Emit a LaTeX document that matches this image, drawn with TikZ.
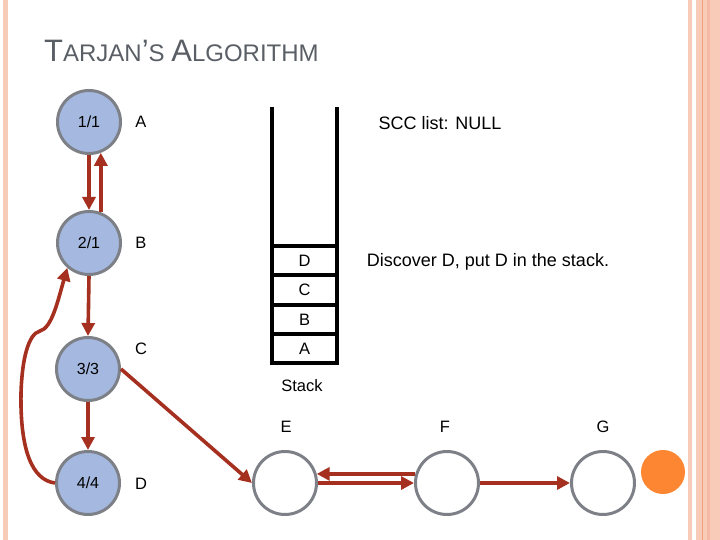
\documentclass[tikz,border=0pt]{standalone}
\usepackage{fontspec}
\setmainfont{Liberation Sans}
\usetikzlibrary{arrows.meta}
\definecolor{nodefill}{RGB}{165,185,224}
\definecolor{nodeedge}{RGB}{125,128,135}
\definecolor{arrowred}{RGB}{165,48,32}
\definecolor{bordpink}{RGB}{248,202,184}
\definecolor{bordline}{RGB}{238,160,125}
\definecolor{bordband}{RGB}{244,186,165}
\definecolor{titlegray}{RGB}{90,95,102}
\definecolor{orangedot}{RGB}{253,134,50}
\begin{document}
\begin{tikzpicture}[x=1pt,y=-1pt,
  vnode/.style={circle,draw=nodeedge,line width=3pt,fill=nodefill,minimum size=63pt,inner sep=0pt,font=\fontsize{16}{18}\selectfont},
  enode/.style={circle,draw=nodeedge,line width=3pt,fill=white,minimum size=63pt,inner sep=0pt},
  lbl/.style={font=\fontsize{16.5}{18}\selectfont,inner sep=0pt},
  txt/.style={font=\fontsize{18}{20}\selectfont,inner sep=0pt},
  arr/.style={draw=arrowred,line width=3.6pt,-{Triangle[length=13pt,width=13pt]}},
  stk/.style={line width=3.8pt,black},
]
\useasboundingbox (0,0) rectangle (720,540);
\fill[white] (0,0) rectangle (720,540);
% decorative borders
\fill[bordpink] (3,0) rectangle (8,540);
\fill[bordpink] (688,0) rectangle (692,540);
\fill[bordpink] (696,0) rectangle (720,540);
\fill[bordband] (707,0) rectangle (710,540);
\draw[bordline,line width=0.8pt] (702,0) -- (702,540);

% title
\node[anchor=base west,inner sep=0pt,text=titlegray] (title) at (44,62)
  {\fontsize{31}{34}\selectfont T\fontsize{24}{28}\selectfont ARJAN\fontsize{31}{34}\selectfont ’\fontsize{24}{28}\selectfont S \fontsize{31}{34}\selectfont A\fontsize{24}{28}\selectfont LGORITHM};

% graph nodes
\node[vnode] (A) at (89,122) {1/1};
\node[vnode] (B) at (89,243) {2/1};
\node[vnode] (C) at (88,369) {3/3};
\node[vnode] (D) at (88,483) {4/4};
\node[enode] (E) at (285,483) {};
\node[enode] (F) at (447,483) {};
\node[enode] (G) at (603,483) {};
\node[circle,fill=orangedot,minimum size=44pt,inner sep=0pt] (dot) at (663,472) {};

% labels
\node[lbl] (lA) at (141,122) {A};
\node[lbl] (lB) at (141,243) {B};
\node[lbl] (lC) at (141,349) {C};
\node[lbl] (lD) at (141,484) {D};
\node[lbl] (lE) at (286,427) {E};
\node[lbl] (lF) at (445,427) {F};
\node[lbl] (lG) at (603,427) {G};

% stack
\draw[stk] (272,107) -- (272,363) -- (337,363) -- (337,107);
\draw[stk] (272,246) -- (337,246);
\draw[stk] (272,275) -- (337,275);
\draw[stk] (272,305) -- (337,305);
\draw[stk] (272,334) -- (337,334);
\node[lbl] (sD) at (304.5,261) {D};
\node[lbl] (sC) at (304.5,290) {C};
\node[lbl] (sB) at (304.5,320) {B};
\node[lbl] (sA) at (304.5,349) {A};
\node[lbl] (stack) at (302,386) {Stack};

\node[txt] (scc) at (440,123) {SCC list: NULL};
\node[txt] (msg) at (488,262) {Discover D, put D in the stack.};

% edges
\draw[arr] (A.south) -- (B.north);
\draw[arr] (B.69) -- (A.-69);
\draw[arr] (B.south) -- (C.north);
\draw[arr] (C.south) -- (D.north);
\draw[arr] (C.east) -- (E.west);
\draw[arr] (E.east) -- (F.west);
\draw[arr] (F.164) -- (E.16);
\draw[arr] (F.east) -- (G.west);
\draw[arr] (D.west) .. controls (32,480) and (20,450) .. (21,393)
  .. controls (22,360) and (28,334) .. (40,331)
  .. controls (52,328) and (58,300) .. (B.229);
\end{tikzpicture}
\end{document}
